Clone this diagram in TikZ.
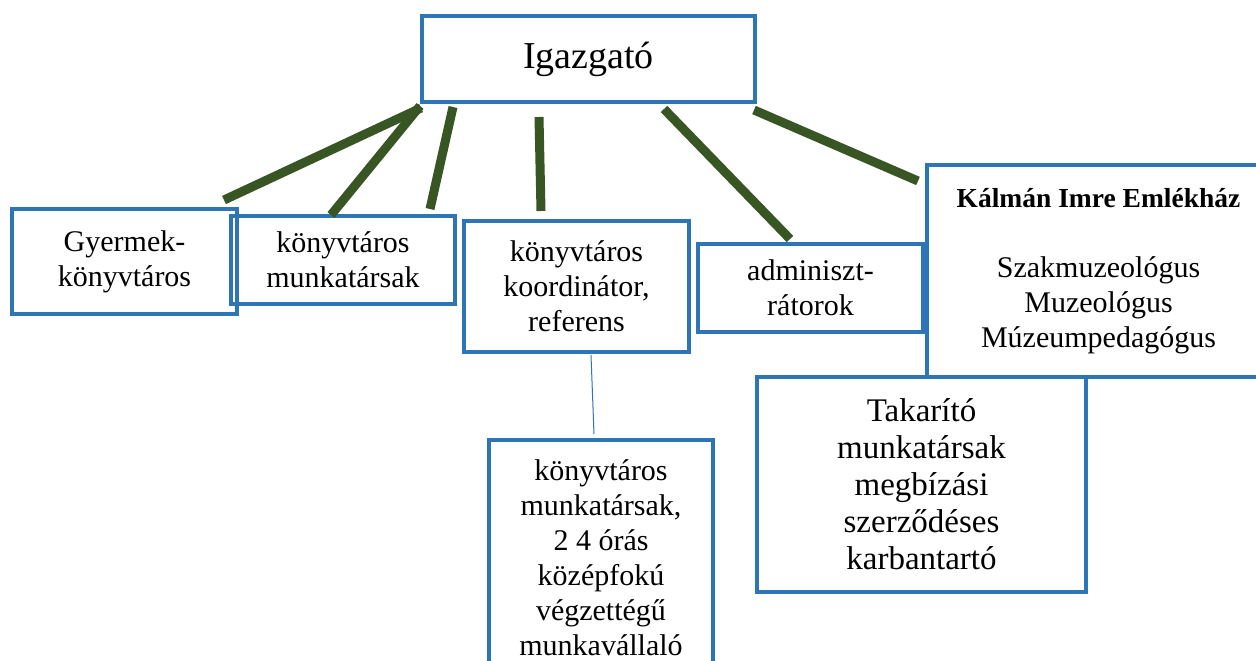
\documentclass[tikz,border=0pt]{standalone}
\usepackage{fontspec}
\setmainfont{Liberation Serif}
\definecolor{boxblue}{RGB}{46,117,182}
\definecolor{linkgreen}{RGB}{55,86,35}
\tikzset{
  orgbox/.style={draw=boxblue, line width=4pt, inner sep=0pt, align=center,
    font=\fontsize{30}{35}\selectfont},
  greenlink/.style={draw=linkgreen, line width=9pt},
  thinlink/.style={draw=boxblue, line width=1pt}
}
\begin{document}
\begin{tikzpicture}[x=1pt,y=-1pt]
\useasboundingbox (0,0) rectangle (1256,661);
\clip (0,0) rectangle (1256,661);
\fill[white] (0,0) rectangle (1256,661);
% boxes
\node[orgbox, minimum width=333pt, minimum height=86pt, font=\fontsize{38}{44}\selectfont] (top) at (588.5,59) {Igazgató};
\node[orgbox, minimum width=225pt, minimum height=105pt] (gyer) at (124.5,261.5) {Gyermek-\\könyvtáros};
\node[orgbox, minimum width=224pt, minimum height=88pt] (km1) at (343,260) {könyvtáros\\munkatársak};
\node[orgbox, minimum width=225pt, minimum height=131pt] (koord) at (576.5,286.5) {könyvtáros\\koordinátor,\\referens};
\node[orgbox, minimum width=225pt, minimum height=88pt] (admin) at (810.5,288) {adminiszt-\\rátorok};
\node[orgbox, minimum width=343pt, minimum height=212pt] (kalman) at (1098.5,271) {{\bfseries\fontsize{27.5}{35}\selectfont Kálmán Imre Emlékház}\\[35pt]Szakmuzeológus\\Muzeológus\\Múzeumpedagógus};
\node[orgbox, minimum width=329pt, minimum height=215pt, font=\fontsize{33}{37}\selectfont] (takar) at (921.5,484.5) {Takarító\\munkatársak\\megbízási\\szerződéses\\karbantartó};
\node[orgbox, minimum width=224pt, minimum height=236pt] (km2) at (601,558) {könyvtáros\\munkatársak,\\2 4 órás\\középfokú\\végzettégű\\munkavállaló};
% connector end points
\coordinate (a1) at (224,200); \coordinate (b1) at (421,108);
\coordinate (a2) at (331,215); \coordinate (b2) at (420,106);
\coordinate (a3) at (430,209); \coordinate (b3) at (453,107);
\coordinate (a4) at (541,211); \coordinate (b4) at (539,117);
\coordinate (a5) at (790,239); \coordinate (b5) at (664,109);
\coordinate (a6) at (918,181); \coordinate (b6) at (754,110);
\coordinate (t1) at (591,355); \coordinate (t2) at (594,434);
\draw[greenlink] (a1) -- (b1);
\draw[greenlink] (a2) -- (b2);
\draw[greenlink] (a3) -- (b3);
\draw[greenlink] (a4) -- (b4);
\draw[greenlink] (a5) -- (b5);
\draw[greenlink] (a6) -- (b6);
\draw[thinlink] (t1) -- (t2);
\end{tikzpicture}
\end{document}
